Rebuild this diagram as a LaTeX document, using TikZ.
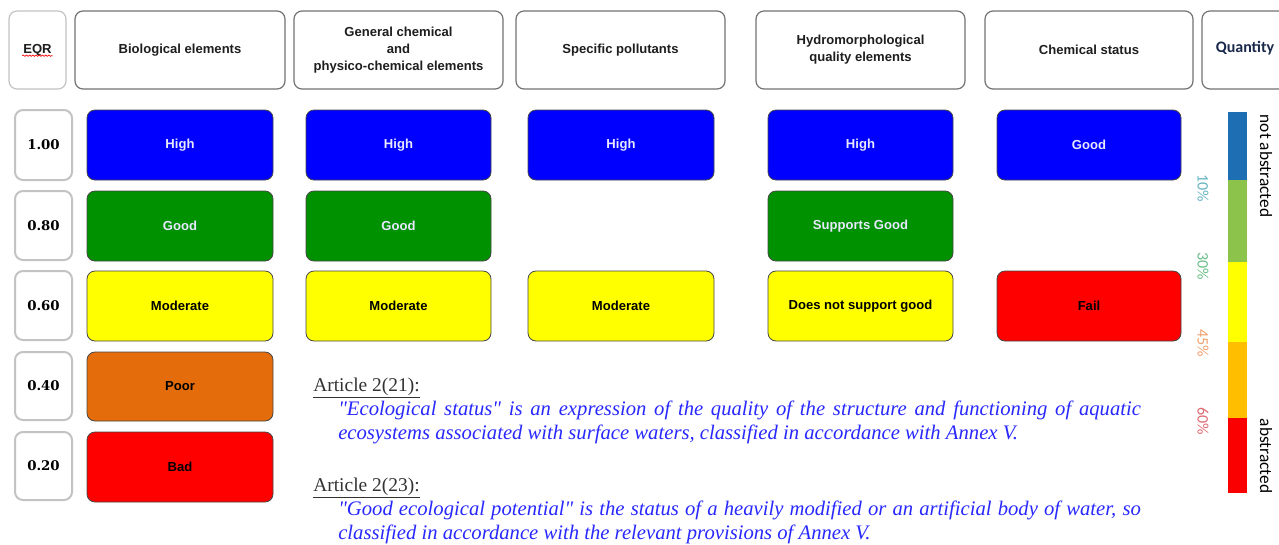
\documentclass[tikz,border=0pt]{standalone}
\usepackage{fontspec}
\usepackage{graphicx}
\setmainfont{Liberation Serif}
\newfontfamily\arialfont{Liberation Sans}
\newfontfamily\calibrifont{Carlito}
\newfontfamily\eqrfont{DejaVu Serif}
\usetikzlibrary{decorations.pathmorphing}
% straight double quote, past the TeX ligature mapping
\newcommand\sq{\XeTeXglyph\XeTeXcharglyph"22\relax}

\definecolor{hiblue}{RGB}{0,0,255}
\definecolor{gdgreen}{RGB}{0,145,0}
\definecolor{modyellow}{RGB}{255,255,0}
\definecolor{poororange}{RGB}{228,108,10}
\definecolor{badred}{RGB}{255,0,0}
\definecolor{boxline}{RGB}{115,115,115}
\definecolor{clsline}{RGB}{70,70,70}
\definecolor{eqrline}{RGB}{195,195,195}
\definecolor{hdrtext}{RGB}{30,30,30}
\definecolor{lighttext}{RGB}{232,232,255}
\definecolor{qtytext}{RGB}{25,40,75}
\definecolor{arthead}{RGB}{50,50,50}
\definecolor{artblue}{RGB}{40,40,255}
\definecolor{barblue}{RGB}{30,110,180}
\definecolor{bargreen}{RGB}{140,195,75}
\definecolor{baryellow}{RGB}{255,255,0}
\definecolor{barorange}{RGB}{255,190,0}
\definecolor{barred}{RGB}{250,0,0}
\definecolor{pctten}{RGB}{100,180,195}
\definecolor{pctthirty}{RGB}{105,190,135}
\definecolor{pctfortyfive}{RGB}{240,160,110}
\definecolor{pctsixty}{RGB}{220,105,115}

\tikzset{
  hdr/.style={draw=boxline, line width=0.9pt, rounded corners=6pt, fill=white},
  hdrtxt/.style={font=\arialfont\bfseries\fontsize{9.8}{12.6}\selectfont, text=hdrtext, align=center},
  eqrbox/.style={draw=eqrline, line width=1.5pt, rounded corners=6pt},
  eqrtxt/.style={font=\eqrfont\bfseries\fontsize{10}{12}\selectfont},
  cls/.style={draw=clsline, line width=0.6pt, rounded corners=6pt},
  clstxt/.style={font=\arialfont\bfseries\fontsize{9.8}{12}\selectfont},
  pct/.style={font=\calibrifont\fontsize{12}{14}\selectfont, rotate=-90},
  side/.style={font=\calibrifont\fontsize{13}{15}\selectfont, rotate=-90},
  arttxt/.style={font=\fontsize{14.6}{18}\selectfont, anchor=base west, inner sep=0pt},
  artquote/.style={arttxt, font=\fontsize{15.5}{18}\selectfont\itshape, text=artblue},
  wavy/.style={draw=red, line width=0.5pt, decorate, decoration={snake, amplitude=0.5pt, segment length=2.4pt}}
}

\begin{document}
\begin{tikzpicture}[x=0.75pt,y=-0.75pt]
\useasboundingbox (0,0) rectangle (1279,544);

% headers
\draw[hdr, draw=eqrline] (9,11) rectangle (66,89) node[pos=.5, hdrtxt] (eqrh) {EQR};
\draw[wavy] ([xshift=3pt,yshift=-1.8pt]eqrh.base west) -- ([xshift=-3pt,yshift=-1.8pt]eqrh.base east);
\draw[hdr] (75,11) rectangle (285,89) node[pos=.5, hdrtxt] (bioh) {Biological elements};
\draw[hdr] (294,11) rectangle (503,89) node[pos=.5, hdrtxt] (genh) {General chemical\\and\\physico-chemical elements};
\draw[hdr] (516,11) rectangle (725,89) node[pos=.5, hdrtxt] (spech) {Specific pollutants};
\draw[hdr] (756,11) rectangle (965,89) node[pos=.5, hdrtxt] (hydh) {Hydromorphological\\quality elements};
\draw[hdr] (985,11) rectangle (1193,89) node[pos=.5, hdrtxt] (chemh) {Chemical status};
\begin{scope}
\clip (1195,0) rectangle (1279,100);
\draw[hdr] (1202,11) rectangle (1294,89);
\end{scope}
\node[font=\calibrifont\bfseries\fontsize{12}{14}\selectfont, text=qtytext] (qtyh) at (1245,48) {Quantity};

% EQR values
\draw[eqrbox] (15,110) rectangle (72,180) node[pos=.5, eqrtxt] (eqra) {1.00};
\draw[eqrbox] (15,191) rectangle (72,260) node[pos=.5, eqrtxt] (eqrb) {0.80};
\draw[eqrbox] (15,271) rectangle (72,340) node[pos=.5, eqrtxt] (eqrc) {0.60};
\draw[eqrbox] (15,352) rectangle (72,420) node[pos=.5, eqrtxt] (eqrd) {0.40};
\draw[eqrbox] (15,432) rectangle (72,500) node[pos=.5, eqrtxt] (eqre) {0.20};

% biological elements
\draw[cls, fill=hiblue] (87,110) rectangle (273,180) node[pos=.5, clstxt, text=lighttext] (biohigh) {High};
\draw[cls, fill=gdgreen] (87,191) rectangle (273,261) node[pos=.5, clstxt, text=lighttext] (biogood) {Good};
\draw[cls, fill=modyellow] (87,271) rectangle (273,341) node[pos=.5, clstxt] (biomod) {Moderate};
\draw[cls, fill=poororange] (87,352) rectangle (273,421) node[pos=.5, clstxt] (biopoor) {Poor};
\draw[cls, fill=badred] (87,432) rectangle (273,502) node[pos=.5, clstxt] (biobad) {Bad};

% general chemical
\draw[cls, fill=hiblue] (306,110) rectangle (491,180) node[pos=.5, clstxt, text=lighttext] (genhigh) {High};
\draw[cls, fill=gdgreen] (306,191) rectangle (491,261) node[pos=.5, clstxt, text=lighttext] (gengood) {Good};
\draw[cls, fill=modyellow] (306,271) rectangle (491,341) node[pos=.5, clstxt] (genmod) {Moderate};

% specific pollutants
\draw[cls, fill=hiblue] (528,110) rectangle (714,180) node[pos=.5, clstxt, text=lighttext] (spechigh) {High};
\draw[cls, fill=modyellow] (528,271) rectangle (714,341) node[pos=.5, clstxt] (specmod) {Moderate};

% hydromorphological
\draw[cls, fill=hiblue] (768,110) rectangle (953,180) node[pos=.5, clstxt, text=lighttext] (hydhigh) {High};
\draw[cls, fill=gdgreen] (768,191) rectangle (953,261) node[pos=.5, clstxt, text=lighttext] (hydgood) {Supports Good};
\draw[cls, fill=modyellow] (768,271) rectangle (953,341) node[pos=.5, clstxt] (hydmod) {Does not support good};

% chemical status
\draw[cls, fill=hiblue] (997,110) rectangle (1181,180) node[pos=.5, clstxt, text=lighttext] (chemgood) {Good};
\draw[cls, fill=badred] (997,271) rectangle (1181,341) node[pos=.5, clstxt] (chemfail) {Fail};

% quantity bar
\fill[barblue] (1228,112) rectangle (1247,180);
\fill[bargreen] (1228,180) rectangle (1247,262);
\fill[baryellow] (1228,262) rectangle (1247,342);
\fill[barorange] (1228,342) rectangle (1247,418);
\fill[barred] (1228,418) rectangle (1247,493);
\node[pct, text=pctten] (pa) at (1203,188) {10\%};
\node[pct, text=pctthirty] (pb) at (1203,266) {30\%};
\node[pct, text=pctfortyfive] (pc) at (1203,343) {45\%};
\node[pct, text=pctsixty] (pd) at (1203,421) {60\%};
\node[side] (notabs) at (1266,166) {not abstracted};
\node[side] (abs) at (1266,456) {abstracted};

% articles
\node[arttxt, text=arthead] (arta) at (313,391) {\underline{Article 2(21):}};
\node[artquote] (artaone) at (338,415) {\makebox[602pt][s]{\sq Ecological status\sq{} is an expression of the quality of the structure and functioning of aquatic}};
\node[artquote] (artatwo) at (338,439) {ecosystems associated with surface waters, classified in accordance with Annex V.};
\node[arttxt, text=arthead] (artb) at (313,491) {\underline{Article 2(23):}};
\node[artquote] (artbone) at (338,515) {\makebox[602pt][s]{\sq Good ecological potential\sq{} is the status of a heavily modified or an artificial body of water, so}};
\node[artquote] (artbtwo) at (338,539) {classified in accordance with the relevant provisions of Annex V.};
\end{tikzpicture}
\end{document}
